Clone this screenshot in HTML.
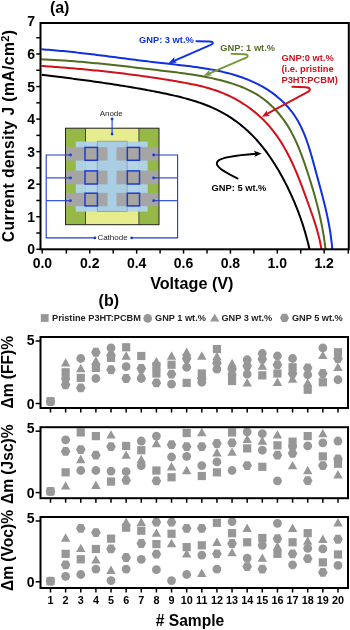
<!DOCTYPE html>
<html><head><meta charset="utf-8"><style>
html,body{margin:0;padding:0;background:#fff;}
body{width:350px;height:630px;overflow:hidden;font-family:"Liberation Sans",sans-serif;}
svg{display:block;will-change:transform;}
</style></head><body>
<svg width="350" height="630" viewBox="0 0 350 630">
<text x="49.9" y="12.9" font-family="'Liberation Sans', sans-serif" font-weight="bold" font-size="16">(a)</text>
<line x1="36.3" y1="249.30" x2="40.5" y2="249.30" stroke="#000" stroke-width="1.5"/>
<line x1="36.3" y1="233.03" x2="40.5" y2="233.03" stroke="#000" stroke-width="1.5"/>
<line x1="36.3" y1="216.75" x2="40.5" y2="216.75" stroke="#000" stroke-width="1.5"/>
<line x1="36.3" y1="200.48" x2="40.5" y2="200.48" stroke="#000" stroke-width="1.5"/>
<line x1="36.3" y1="184.20" x2="40.5" y2="184.20" stroke="#000" stroke-width="1.5"/>
<line x1="36.3" y1="167.93" x2="40.5" y2="167.93" stroke="#000" stroke-width="1.5"/>
<line x1="36.3" y1="151.65" x2="40.5" y2="151.65" stroke="#000" stroke-width="1.5"/>
<line x1="36.3" y1="135.38" x2="40.5" y2="135.38" stroke="#000" stroke-width="1.5"/>
<line x1="36.3" y1="119.10" x2="40.5" y2="119.10" stroke="#000" stroke-width="1.5"/>
<line x1="36.3" y1="102.83" x2="40.5" y2="102.83" stroke="#000" stroke-width="1.5"/>
<line x1="36.3" y1="86.55" x2="40.5" y2="86.55" stroke="#000" stroke-width="1.5"/>
<line x1="36.3" y1="70.28" x2="40.5" y2="70.28" stroke="#000" stroke-width="1.5"/>
<line x1="36.3" y1="54.00" x2="40.5" y2="54.00" stroke="#000" stroke-width="1.5"/>
<line x1="36.3" y1="37.73" x2="40.5" y2="37.73" stroke="#000" stroke-width="1.5"/>
<text x="35" y="254.30" font-family="'Liberation Sans', sans-serif" font-weight="bold" font-size="14" text-anchor="end">0</text>
<text x="35" y="221.75" font-family="'Liberation Sans', sans-serif" font-weight="bold" font-size="14" text-anchor="end">1</text>
<text x="35" y="189.20" font-family="'Liberation Sans', sans-serif" font-weight="bold" font-size="14" text-anchor="end">2</text>
<text x="35" y="156.65" font-family="'Liberation Sans', sans-serif" font-weight="bold" font-size="14" text-anchor="end">3</text>
<text x="35" y="124.10" font-family="'Liberation Sans', sans-serif" font-weight="bold" font-size="14" text-anchor="end">4</text>
<text x="35" y="91.55" font-family="'Liberation Sans', sans-serif" font-weight="bold" font-size="14" text-anchor="end">5</text>
<text x="35" y="59.00" font-family="'Liberation Sans', sans-serif" font-weight="bold" font-size="14" text-anchor="end">6</text>
<text x="35" y="25.50" font-family="'Liberation Sans', sans-serif" font-weight="bold" font-size="14" text-anchor="end">7</text>
<line x1="42.20" y1="249.3" x2="42.20" y2="253.6" stroke="#000" stroke-width="1.5"/>
<line x1="66.34" y1="249.3" x2="66.34" y2="253.6" stroke="#000" stroke-width="1.5"/>
<line x1="89.78" y1="249.3" x2="89.78" y2="253.6" stroke="#000" stroke-width="1.5"/>
<line x1="113.22" y1="249.3" x2="113.22" y2="253.6" stroke="#000" stroke-width="1.5"/>
<line x1="136.66" y1="249.3" x2="136.66" y2="253.6" stroke="#000" stroke-width="1.5"/>
<line x1="160.10" y1="249.3" x2="160.10" y2="253.6" stroke="#000" stroke-width="1.5"/>
<line x1="183.54" y1="249.3" x2="183.54" y2="253.6" stroke="#000" stroke-width="1.5"/>
<line x1="206.98" y1="249.3" x2="206.98" y2="253.6" stroke="#000" stroke-width="1.5"/>
<line x1="230.42" y1="249.3" x2="230.42" y2="253.6" stroke="#000" stroke-width="1.5"/>
<line x1="253.86" y1="249.3" x2="253.86" y2="253.6" stroke="#000" stroke-width="1.5"/>
<line x1="277.30" y1="249.3" x2="277.30" y2="253.6" stroke="#000" stroke-width="1.5"/>
<line x1="300.74" y1="249.3" x2="300.74" y2="253.6" stroke="#000" stroke-width="1.5"/>
<line x1="324.18" y1="249.3" x2="324.18" y2="253.6" stroke="#000" stroke-width="1.5"/>
<line x1="348.30" y1="249.3" x2="348.30" y2="253.6" stroke="#000" stroke-width="1.5"/>
<text x="42.40" y="268" font-family="'Liberation Sans', sans-serif" font-weight="bold" font-size="14" text-anchor="middle">0.0</text>
<text x="89.78" y="268" font-family="'Liberation Sans', sans-serif" font-weight="bold" font-size="14" text-anchor="middle">0.2</text>
<text x="136.66" y="268" font-family="'Liberation Sans', sans-serif" font-weight="bold" font-size="14" text-anchor="middle">0.4</text>
<text x="183.54" y="268" font-family="'Liberation Sans', sans-serif" font-weight="bold" font-size="14" text-anchor="middle">0.6</text>
<text x="230.42" y="268" font-family="'Liberation Sans', sans-serif" font-weight="bold" font-size="14" text-anchor="middle">0.8</text>
<text x="277.30" y="268" font-family="'Liberation Sans', sans-serif" font-weight="bold" font-size="14" text-anchor="middle">1.0</text>
<text x="324.18" y="268" font-family="'Liberation Sans', sans-serif" font-weight="bold" font-size="14" text-anchor="middle">1.2</text>
<text x="191.8" y="289" font-family="'Liberation Sans', sans-serif" font-weight="bold" font-size="16.2" text-anchor="middle">Voltage (V)</text>
<text transform="translate(14.0,135.9) rotate(-90)" font-family="'Liberation Sans', sans-serif" font-weight="bold" font-size="15.6" text-anchor="middle" letter-spacing="0.45">Current density J (mA/cm<tspan dy="-5.5" font-size="11">2</tspan><tspan dy="5.5">)</tspan></text>
<rect x="65.5" y="128.2" width="93.5" height="96.5" fill="#95b846"/>
<rect x="85.5" y="128.2" width="53.5" height="96.5" fill="#e7ec8e"/>
<line x1="85.5" y1="128.2" x2="85.5" y2="224.7" stroke="#333" stroke-width="0.9"/>
<line x1="138.9" y1="128.2" x2="138.9" y2="224.7" stroke="#333" stroke-width="0.9"/>
<rect x="75.7" y="141.5" width="72" height="70.2" fill="#b0d3ec" fill-opacity="0.94"/>
<rect x="97.3" y="141.2" width="29.8" height="70.2" fill="#a9cde2" stroke="#8c9ca6" stroke-width="0.8"/>
<rect x="65.5" y="147.1" width="42" height="13.5" fill="#a5a5a5"/>
<rect x="116.5" y="147.1" width="42.5" height="13.5" fill="#a5a5a5"/>
<rect x="85" y="147.4" width="12.4" height="12.9" fill="#a8a6a3" stroke="#1c3ed0" stroke-width="1.5"/>
<rect x="127.3" y="147.4" width="12.2" height="12.9" fill="#a8a6a3" stroke="#1c3ed0" stroke-width="1.5"/>
<rect x="65.5" y="170.6" width="42" height="13.7" fill="#a5a5a5"/>
<rect x="116.5" y="170.6" width="42.5" height="13.7" fill="#a5a5a5"/>
<rect x="85" y="170.9" width="12.4" height="13.1" fill="#a8a6a3" stroke="#1c3ed0" stroke-width="1.5"/>
<rect x="127.3" y="170.9" width="12.2" height="13.1" fill="#a8a6a3" stroke="#1c3ed0" stroke-width="1.5"/>
<rect x="65.5" y="192.9" width="42" height="13.3" fill="#a5a5a5"/>
<rect x="116.5" y="192.9" width="42.5" height="13.3" fill="#a5a5a5"/>
<rect x="85" y="193.2" width="12.4" height="12.7" fill="#a8a6a3" stroke="#1c3ed0" stroke-width="1.5"/>
<rect x="127.3" y="193.2" width="12.2" height="12.7" fill="#a8a6a3" stroke="#1c3ed0" stroke-width="1.5"/>
<rect x="65.5" y="128.2" width="93.5" height="96.5" fill="none" stroke="#222" stroke-width="1"/>
<polyline points="70.5,155 46.2,155 46.2,237.9 94.9,237.9" fill="none" stroke="#1c3ed0" stroke-width="1.1"/>
<polyline points="153.6,155 177.6,155 177.6,237.9 131.6,237.9" fill="none" stroke="#1c3ed0" stroke-width="1.1"/>
<line x1="46.2" y1="177.9" x2="70.5" y2="177.9" stroke="#1c3ed0" stroke-width="1.1"/>
<line x1="153.6" y1="177.9" x2="177.6" y2="177.9" stroke="#1c3ed0" stroke-width="1.1"/>
<line x1="46.2" y1="200.7" x2="70.5" y2="200.7" stroke="#1c3ed0" stroke-width="1.1"/>
<line x1="153.6" y1="200.7" x2="177.6" y2="200.7" stroke="#1c3ed0" stroke-width="1.1"/>
<circle cx="70.5" cy="155" r="1.4" fill="#1c3ed0"/>
<circle cx="153.6" cy="155" r="1.4" fill="#1c3ed0"/>
<circle cx="70.5" cy="177.9" r="1.4" fill="#1c3ed0"/>
<circle cx="153.6" cy="177.9" r="1.4" fill="#1c3ed0"/>
<circle cx="70.5" cy="200.7" r="1.4" fill="#1c3ed0"/>
<circle cx="153.6" cy="200.7" r="1.4" fill="#1c3ed0"/>
<circle cx="94.9" cy="237.9" r="1.4" fill="#1c3ed0"/>
<circle cx="131.6" cy="237.9" r="1.4" fill="#1c3ed0"/>
<line x1="112.1" y1="118.9" x2="112.1" y2="134" stroke="#1c3ed0" stroke-width="1.1"/>
<circle cx="112.1" cy="118.9" r="1.4" fill="#1c3ed0"/>
<circle cx="112.1" cy="134" r="1.4" fill="#1c3ed0"/>
<text x="111.2" y="115.7" font-family="'Liberation Sans', sans-serif" font-size="8" text-anchor="middle" fill="#222">Anode</text>
<text x="112.5" y="240.3" font-family="'Liberation Sans', sans-serif" font-size="8" text-anchor="middle" fill="#222">Cathode</text>
<path d="M41.50,74.69 L43.57,74.95 L45.64,75.21 L47.71,75.47 L49.78,75.73 L51.85,75.99 L53.91,76.25 L55.98,76.51 L58.05,76.77 L60.12,77.03 L62.19,77.29 L64.26,77.55 L66.32,77.82 L68.39,78.09 L70.46,78.35 L72.53,78.62 L74.59,78.89 L76.66,79.16 L78.73,79.44 L80.79,79.71 L82.86,79.99 L84.93,80.27 L86.99,80.55 L89.06,80.83 L91.12,81.11 L93.19,81.40 L95.25,81.69 L97.32,81.98 L99.38,82.28 L101.44,82.57 L103.51,82.87 L105.57,83.18 L107.63,83.48 L109.69,83.79 L111.76,84.10 L113.82,84.42 L115.88,84.74 L117.94,85.06 L120.00,85.39 L122.06,85.71 L124.11,86.05 L126.17,86.38 L128.23,86.72 L130.28,87.07 L132.34,87.42 L134.39,87.77 L136.45,88.13 L138.50,88.49 L140.55,88.85 L142.61,89.22 L144.66,89.60 L146.71,89.97 L148.76,90.36 L150.80,90.74 L152.85,91.14 L154.90,91.54 L156.94,91.94 L158.99,92.35 L161.03,92.76 L163.08,93.18 L165.12,93.60 L167.16,94.03 L169.19,94.47 L171.23,94.92 L173.26,95.38 L175.29,95.85 L177.32,96.33 L179.35,96.83 L181.37,97.33 L183.39,97.85 L185.41,98.39 L187.42,98.94 L189.42,99.51 L191.42,100.09 L193.42,100.69 L195.41,101.32 L197.39,101.96 L199.37,102.63 L201.34,103.31 L203.30,104.02 L205.25,104.76 L207.19,105.51 L209.12,106.30 L211.04,107.11 L212.95,107.95 L214.85,108.81 L216.73,109.71 L218.60,110.63 L220.45,111.59 L222.29,112.58 L224.11,113.59 L225.91,114.64 L227.70,115.72 L229.46,116.82 L231.21,117.95 L232.94,119.12 L234.65,120.31 L236.35,121.53 L238.02,122.77 L239.67,124.05 L241.30,125.35 L242.91,126.67 L244.50,128.02 L246.06,129.40 L247.61,130.80 L249.13,132.22 L250.63,133.67 L252.10,135.15 L253.56,136.64 L254.99,138.16 L256.40,139.69 L257.78,141.25 L259.15,142.83 L260.49,144.42 L261.82,146.03 L263.12,147.66 L264.40,149.30 L265.66,150.96 L266.91,152.63 L268.13,154.32 L269.33,156.03 L270.52,157.74 L271.69,159.47 L272.84,161.21 L273.97,162.96 L275.08,164.72 L276.18,166.49 L277.26,168.27 L278.33,170.07 L279.38,171.87 L280.41,173.68 L281.43,175.50 L282.44,177.32 L283.43,179.16 L284.40,181.00 L285.36,182.85 L286.31,184.71 L287.24,186.57 L288.16,188.44 L289.06,190.32 L289.95,192.21 L290.83,194.10 L291.69,196.00 L292.54,197.90 L293.37,199.81 L294.19,201.73 L295.00,203.65 L295.79,205.58 L296.57,207.51 L297.34,209.45 L298.09,211.40 L298.82,213.35 L299.54,215.31 L300.25,217.27 L300.94,219.24 L301.61,221.21 L302.28,223.19 L302.92,225.17 L303.55,227.15 L304.17,229.15 L304.77,231.14 L305.36,233.14 L305.93,235.15 L306.49,237.16 L307.03,239.17 L307.56,241.19 L308.07,243.21 L308.56,245.23 L309.04,247.26 L309.51,249.29" fill="none" stroke="#000" stroke-width="2.0" stroke-linejoin="round"/>
<path d="M41.50,65.90 L43.72,66.05 L45.94,66.21 L48.16,66.38 L50.38,66.54 L52.60,66.71 L54.82,66.88 L57.04,67.05 L59.26,67.22 L61.48,67.40 L63.70,67.58 L65.92,67.76 L68.14,67.95 L70.35,68.13 L72.57,68.32 L74.79,68.52 L77.01,68.71 L79.22,68.91 L81.44,69.11 L83.66,69.32 L85.87,69.52 L88.09,69.74 L90.31,69.95 L92.52,70.17 L94.74,70.39 L96.95,70.61 L99.17,70.84 L101.38,71.07 L103.59,71.30 L105.81,71.54 L108.02,71.78 L110.23,72.03 L112.44,72.28 L114.66,72.53 L116.87,72.79 L119.08,73.05 L121.29,73.31 L123.50,73.58 L125.71,73.85 L127.92,74.13 L130.13,74.41 L132.33,74.69 L134.54,74.98 L136.75,75.27 L138.95,75.57 L141.16,75.87 L143.36,76.17 L145.57,76.48 L147.77,76.80 L149.98,77.12 L152.18,77.44 L154.38,77.77 L156.58,78.10 L158.78,78.44 L160.98,78.78 L163.18,79.13 L165.38,79.48 L167.58,79.84 L169.77,80.20 L171.97,80.57 L174.16,80.94 L176.36,81.32 L178.55,81.70 L180.74,82.09 L182.93,82.48 L185.12,82.88 L187.31,83.29 L189.50,83.71 L191.68,84.15 L193.86,84.60 L196.04,85.07 L198.21,85.55 L200.38,86.06 L202.54,86.58 L204.70,87.14 L206.85,87.71 L208.99,88.32 L211.12,88.95 L213.25,89.61 L215.36,90.31 L217.47,91.04 L219.56,91.80 L221.63,92.61 L223.69,93.44 L225.74,94.32 L227.77,95.23 L229.79,96.18 L231.78,97.16 L233.76,98.18 L235.72,99.23 L237.67,100.32 L239.59,101.44 L241.49,102.60 L243.37,103.79 L245.23,105.01 L247.07,106.27 L248.88,107.56 L250.68,108.88 L252.44,110.23 L254.19,111.62 L255.90,113.03 L257.60,114.48 L259.26,115.96 L260.90,117.46 L262.51,119.00 L264.09,120.57 L265.64,122.16 L267.16,123.79 L268.65,125.44 L270.11,127.13 L271.53,128.84 L272.93,130.57 L274.29,132.34 L275.62,134.12 L276.92,135.93 L278.19,137.76 L279.43,139.61 L280.64,141.47 L281.82,143.36 L282.97,145.26 L284.10,147.18 L285.20,149.12 L286.28,151.06 L287.33,153.03 L288.36,155.00 L289.37,156.98 L290.36,158.98 L291.32,160.99 L292.27,163.00 L293.20,165.03 L294.10,167.06 L295.00,169.10 L295.87,171.14 L296.74,173.20 L297.58,175.25 L298.42,177.32 L299.24,179.39 L300.05,181.46 L300.85,183.54 L301.65,185.62 L302.43,187.70 L303.21,189.79 L303.98,191.87 L304.74,193.97 L305.50,196.06 L306.26,198.15 L307.01,200.25 L307.76,202.34 L308.52,204.44 L309.27,206.53 L310.01,208.63 L310.76,210.73 L311.50,212.83 L312.23,214.93 L312.95,217.04 L313.66,219.15 L314.35,221.26 L315.03,223.38 L315.70,225.50 L316.35,227.63 L316.97,229.77 L317.58,231.91 L318.16,234.06 L318.72,236.22 L319.25,238.38 L319.75,240.55 L320.22,242.72 L320.65,244.91 L321.05,247.10 L321.42,249.29" fill="none" stroke="#d0101a" stroke-width="2.0" stroke-linejoin="round"/>
<path d="M41.50,59.31 L43.82,59.41 L46.15,59.52 L48.48,59.63 L50.81,59.75 L53.13,59.88 L55.46,60.01 L57.79,60.15 L60.11,60.30 L62.44,60.45 L64.76,60.61 L67.09,60.78 L69.41,60.95 L71.73,61.12 L74.06,61.30 L76.38,61.49 L78.70,61.68 L81.03,61.87 L83.35,62.08 L85.67,62.28 L87.99,62.49 L90.31,62.71 L92.63,62.92 L94.95,63.15 L97.27,63.37 L99.59,63.60 L101.91,63.84 L104.22,64.07 L106.54,64.31 L108.86,64.56 L111.18,64.80 L113.49,65.05 L115.81,65.30 L118.13,65.56 L120.44,65.81 L122.76,66.07 L125.07,66.33 L127.39,66.60 L129.71,66.86 L132.02,67.13 L134.34,67.39 L136.65,67.66 L138.96,67.93 L141.28,68.20 L143.59,68.48 L145.91,68.75 L148.22,69.02 L150.54,69.29 L152.85,69.57 L155.17,69.84 L157.48,70.11 L159.79,70.39 L162.11,70.66 L164.42,70.93 L166.74,71.21 L169.05,71.48 L171.36,71.77 L173.68,72.05 L175.99,72.34 L178.30,72.63 L180.61,72.94 L182.92,73.25 L185.23,73.56 L187.54,73.89 L189.84,74.23 L192.15,74.58 L194.45,74.94 L196.75,75.32 L199.04,75.71 L201.34,76.11 L203.63,76.53 L205.92,76.97 L208.21,77.42 L210.49,77.89 L212.77,78.39 L215.04,78.90 L217.31,79.43 L219.57,79.98 L221.83,80.56 L224.08,81.16 L226.33,81.78 L228.56,82.44 L230.79,83.12 L233.01,83.83 L235.22,84.58 L237.42,85.35 L239.60,86.17 L241.77,87.02 L243.92,87.92 L246.05,88.85 L248.17,89.83 L250.26,90.85 L252.33,91.93 L254.37,93.05 L256.39,94.22 L258.37,95.45 L260.32,96.73 L262.23,98.06 L264.10,99.45 L265.93,100.89 L267.73,102.37 L269.48,103.91 L271.19,105.48 L272.87,107.11 L274.50,108.77 L276.09,110.47 L277.64,112.21 L279.15,113.99 L280.62,115.80 L282.04,117.64 L283.43,119.51 L284.78,121.42 L286.08,123.35 L287.35,125.30 L288.57,127.28 L289.76,129.29 L290.91,131.32 L292.02,133.37 L293.10,135.43 L294.14,137.52 L295.14,139.62 L296.12,141.73 L297.07,143.86 L297.99,146.00 L298.89,148.15 L299.76,150.32 L300.61,152.49 L301.44,154.66 L302.25,156.85 L303.04,159.04 L303.82,161.24 L304.58,163.44 L305.34,165.64 L306.08,167.85 L306.82,170.06 L307.54,172.28 L308.26,174.49 L308.98,176.71 L309.68,178.93 L310.38,181.15 L311.07,183.38 L311.75,185.61 L312.42,187.84 L313.08,190.08 L313.73,192.31 L314.37,194.55 L315.00,196.80 L315.62,199.05 L316.22,201.30 L316.81,203.55 L317.39,205.81 L317.96,208.07 L318.52,210.33 L319.06,212.60 L319.58,214.87 L320.09,217.14 L320.59,219.42 L321.07,221.70 L321.53,223.98 L321.98,226.27 L322.41,228.56 L322.83,230.85 L323.23,233.15 L323.61,235.45 L323.97,237.75 L324.31,240.05 L324.64,242.36 L324.95,244.67 L325.23,246.98 L325.50,249.30" fill="none" stroke="#4f6b1f" stroke-width="2.0" stroke-linejoin="round"/>
<path d="M41.49,49.31 L43.90,49.48 L46.31,49.66 L48.72,49.84 L51.13,50.04 L53.54,50.24 L55.95,50.45 L58.36,50.66 L60.77,50.89 L63.17,51.12 L65.58,51.35 L67.99,51.60 L70.39,51.84 L72.79,52.10 L75.20,52.36 L77.60,52.62 L80.00,52.89 L82.41,53.17 L84.81,53.45 L87.21,53.73 L89.61,54.02 L92.01,54.31 L94.41,54.60 L96.81,54.90 L99.21,55.20 L101.61,55.50 L104.01,55.81 L106.41,56.11 L108.80,56.42 L111.20,56.73 L113.60,57.04 L116.00,57.35 L118.40,57.67 L120.79,57.98 L123.19,58.29 L125.59,58.60 L127.99,58.91 L130.38,59.22 L132.78,59.53 L135.18,59.84 L137.58,60.14 L139.98,60.44 L142.38,60.74 L144.78,61.04 L147.18,61.34 L149.58,61.63 L151.98,61.92 L154.38,62.20 L156.78,62.48 L159.18,62.76 L161.59,63.03 L163.99,63.30 L166.39,63.56 L168.80,63.83 L171.20,64.09 L173.60,64.36 L176.00,64.63 L178.41,64.90 L180.81,65.17 L183.21,65.45 L185.61,65.74 L188.01,66.03 L190.41,66.33 L192.81,66.65 L195.21,66.97 L197.60,67.30 L199.99,67.65 L202.38,68.01 L204.77,68.39 L207.16,68.79 L209.54,69.20 L211.92,69.63 L214.29,70.08 L216.67,70.55 L219.03,71.04 L221.39,71.56 L223.75,72.11 L226.10,72.68 L228.44,73.28 L230.78,73.90 L233.10,74.56 L235.42,75.25 L237.73,75.97 L240.03,76.73 L242.31,77.52 L244.58,78.35 L246.84,79.21 L249.08,80.12 L251.31,81.07 L253.51,82.05 L255.70,83.09 L257.87,84.16 L260.01,85.28 L262.13,86.44 L264.22,87.65 L266.29,88.90 L268.33,90.20 L270.34,91.55 L272.31,92.94 L274.26,94.38 L276.16,95.87 L278.03,97.40 L279.87,98.98 L281.66,100.60 L283.41,102.27 L285.12,103.98 L286.78,105.74 L288.39,107.54 L289.95,109.38 L291.46,111.27 L292.92,113.20 L294.31,115.18 L295.64,117.20 L296.91,119.25 L298.13,121.35 L299.29,123.47 L300.39,125.62 L301.45,127.79 L302.46,129.99 L303.43,132.20 L304.35,134.44 L305.24,136.69 L306.10,138.95 L306.92,141.22 L307.71,143.51 L308.47,145.80 L309.20,148.11 L309.92,150.42 L310.61,152.73 L311.29,155.05 L311.95,157.38 L312.60,159.71 L313.24,162.04 L313.88,164.37 L314.51,166.71 L315.14,169.04 L315.78,171.37 L316.41,173.71 L317.05,176.04 L317.69,178.37 L318.33,180.70 L318.97,183.03 L319.60,185.37 L320.23,187.70 L320.86,190.04 L321.48,192.37 L322.10,194.71 L322.71,197.05 L323.31,199.39 L323.90,201.74 L324.49,204.08 L325.06,206.43 L325.62,208.79 L326.16,211.14 L326.69,213.50 L327.21,215.86 L327.71,218.23 L328.19,220.60 L328.65,222.97 L329.10,225.35 L329.52,227.73 L329.93,230.11 L330.31,232.50 L330.67,234.89 L331.00,237.28 L331.31,239.68 L331.60,242.08 L331.86,244.49 L332.09,246.89 L332.29,249.30" fill="none" stroke="#1030e0" stroke-width="2.0" stroke-linejoin="round"/>
<rect x="40.5" y="23" width="308.3" height="226.3" fill="none" stroke="#000" stroke-width="2"/>
<text x="139" y="42.7" font-family="'Liberation Sans', sans-serif" font-weight="bold" font-size="9.3" fill="#1030e0">GNP: 3 wt.%</text>
<path d="M196.4,41.2 L209.5,41.5 C214,41.8 214,44.2 209.5,45.3 L173.5,61.1" fill="none" stroke="#1030e0" stroke-width="1.9" stroke-linecap="round"/><polygon points="168.80,62.90 174.41,56.99 174.22,60.56 176.95,62.86" fill="#1030e0"/>
<text x="220.3" y="50.9" font-family="'Liberation Sans', sans-serif" font-weight="bold" font-size="9.3" fill="#556b2f">GNP: 1 wt.%</text>
<path d="M231.4,53.9 L244.5,54.3 C249,54.6 248.5,57 244.5,58.5 L208.5,73.8" fill="none" stroke="#76993a" stroke-width="1.9" stroke-linecap="round"/><polygon points="203.80,75.70 209.46,69.83 209.23,73.40 211.95,75.73" fill="#76993a"/>
<text x="281.5" y="61.4" font-family="'Liberation Sans', sans-serif" font-weight="bold" font-size="9.3" fill="#d0101a">GNP:0 wt.%</text>
<text x="281.5" y="72.2" font-family="'Liberation Sans', sans-serif" font-weight="bold" font-size="9.3" fill="#d0101a">(i.e. pristine</text>
<text x="281.5" y="83.3" font-family="'Liberation Sans', sans-serif" font-weight="bold" font-size="9.3" fill="#d0101a">P3HT:PCBM)</text>
<path d="M292.3,86.7 L305.5,87.2 C311,87.5 311.5,90.5 306,92.8 L266.5,114.2" fill="none" stroke="#d0101a" stroke-width="1.9" stroke-linecap="round"/><polygon points="261.90,116.70 266.97,110.31 267.09,113.89 270.02,115.94" fill="#d0101a"/>
<text x="211.6" y="190.7" font-family="'Liberation Sans', sans-serif" font-weight="bold" font-size="9.3" fill="#000">GNP: 5 wt.%</text>
<path d="M237.5,178.5 C225,172 213,166 218,161 C222,157 240,155 256,153.8" fill="none" stroke="#000" stroke-width="1.9" stroke-linecap="round"/><polygon points="261.60,153.40 254.33,157.09 255.71,153.79 253.91,150.70" fill="#000"/>
<text x="98.6" y="306" font-family="'Liberation Sans', sans-serif" font-weight="bold" font-size="16">(b)</text>
<rect x="40.80" y="314.10" width="7.8" height="7.8" fill="#979797"/>
<text x="52" y="321.3" font-family="'Liberation Sans', sans-serif" font-weight="bold" font-size="9.2" fill="#222">Pristine P3HT:PCBM</text>
<circle cx="147.70" cy="318.40" r="4.3" fill="#979797"/>
<text x="155" y="321.3" font-family="'Liberation Sans', sans-serif" font-weight="bold" font-size="9.2" fill="#222">GNP 1 wt.%</text>
<polygon points="214.70,313.80 219.40,321.60 210.00,321.60" fill="#979797"/>
<text x="221.4" y="321.3" font-family="'Liberation Sans', sans-serif" font-weight="bold" font-size="9.2" fill="#222">GNP 3 wt.%</text>
<polygon points="279.90,317.90 282.20,313.80 286.80,313.80 289.10,317.90 286.80,322.00 282.20,322.00" fill="#979797"/>
<text x="291.9" y="321.3" font-family="'Liberation Sans', sans-serif" font-weight="bold" font-size="9.2" fill="#222">GNP 5 wt.%</text>
<polygon points="45.70,401.62 48.10,397.23 52.90,397.23 55.30,401.62 52.90,406.02 48.10,406.02" fill="#979797"/>
<rect x="46.40" y="397.15" width="8.2" height="8.2" fill="#979797"/>
<polygon points="65.63,358.18 70.33,366.57 60.93,366.57" fill="#979797"/>
<rect x="61.53" y="368.15" width="8.2" height="8.2" fill="#979797"/>
<circle cx="65.63" cy="378.50" r="4.4" fill="#979797"/>
<polygon points="60.83,384.75 63.23,380.35 68.03,380.35 70.43,384.75 68.03,389.15 63.23,389.15" fill="#979797"/>
<circle cx="80.76" cy="358.50" r="4.4" fill="#979797"/>
<polygon points="80.76,363.80 85.46,372.20 76.06,372.20" fill="#979797"/>
<rect x="76.66" y="373.77" width="8.2" height="8.2" fill="#979797"/>
<polygon points="75.96,387.88 78.36,383.48 83.16,383.48 85.56,387.88 83.16,392.27 78.36,392.27" fill="#979797"/>
<polygon points="91.09,352.25 93.49,347.85 98.29,347.85 100.69,352.25 98.29,356.65 93.49,356.65" fill="#979797"/>
<polygon points="95.89,356.30 100.59,364.70 91.19,364.70" fill="#979797"/>
<rect x="91.79" y="363.77" width="8.2" height="8.2" fill="#979797"/>
<circle cx="95.89" cy="378.50" r="4.4" fill="#979797"/>
<circle cx="111.02" cy="347.88" r="4.4" fill="#979797"/>
<polygon points="106.22,355.38 108.62,350.98 113.42,350.98 115.82,355.38 113.42,359.77 108.62,359.77" fill="#979797"/>
<rect x="106.92" y="353.77" width="8.2" height="8.2" fill="#979797"/>
<polygon points="106.22,369.75 108.62,365.35 113.42,365.35 115.82,369.75 113.42,374.15 108.62,374.15" fill="#979797"/>
<rect x="122.05" y="343.15" width="8.2" height="8.2" fill="#979797"/>
<polygon points="126.15,351.30 130.85,359.70 121.45,359.70" fill="#979797"/>
<circle cx="126.15" cy="366.62" r="4.4" fill="#979797"/>
<polygon points="121.35,378.50 123.75,374.10 128.55,374.10 130.95,378.50 128.55,382.90 123.75,382.90" fill="#979797"/>
<rect x="137.18" y="351.90" width="8.2" height="8.2" fill="#979797"/>
<polygon points="136.48,368.50 138.88,364.10 143.68,364.10 146.08,368.50 143.68,372.90 138.88,372.90" fill="#979797"/>
<polygon points="141.28,370.05 145.98,378.45 136.58,378.45" fill="#979797"/>
<circle cx="141.28" cy="378.50" r="4.4" fill="#979797"/>
<polygon points="156.41,356.93 161.11,365.32 151.71,365.32" fill="#979797"/>
<rect x="152.31" y="361.90" width="8.2" height="8.2" fill="#979797"/>
<rect x="152.31" y="369.40" width="8.2" height="8.2" fill="#979797"/>
<polygon points="151.61,382.88 154.01,378.48 158.81,378.48 161.21,382.88 158.81,387.27 154.01,387.27" fill="#979797"/>
<polygon points="171.54,351.30 176.24,359.70 166.84,359.70" fill="#979797"/>
<rect x="167.44" y="360.65" width="8.2" height="8.2" fill="#979797"/>
<polygon points="166.74,374.12 169.14,369.73 173.94,369.73 176.34,374.12 173.94,378.52 169.14,378.52" fill="#979797"/>
<circle cx="171.54" cy="384.12" r="4.4" fill="#979797"/>
<polygon points="186.67,347.55 191.37,355.95 181.97,355.95" fill="#979797"/>
<polygon points="181.87,358.50 184.27,354.10 189.07,354.10 191.47,358.50 189.07,362.90 184.27,362.90" fill="#979797"/>
<circle cx="186.67" cy="367.25" r="4.4" fill="#979797"/>
<rect x="182.57" y="378.77" width="8.2" height="8.2" fill="#979797"/>
<polygon points="201.80,351.30 206.50,359.70 197.10,359.70" fill="#979797"/>
<rect x="197.70" y="369.40" width="8.2" height="8.2" fill="#979797"/>
<polygon points="197.00,378.50 199.40,374.10 204.20,374.10 206.60,378.50 204.20,382.90 199.40,382.90" fill="#979797"/>
<circle cx="201.80" cy="382.25" r="4.4" fill="#979797"/>
<rect x="212.83" y="345.02" width="8.2" height="8.2" fill="#979797"/>
<polygon points="216.93,351.93 221.63,360.32 212.23,360.32" fill="#979797"/>
<polygon points="212.13,362.88 214.53,358.48 219.33,358.48 221.73,362.88 219.33,367.27 214.53,367.27" fill="#979797"/>
<circle cx="216.93" cy="369.12" r="4.4" fill="#979797"/>
<polygon points="232.06,358.80 236.76,367.20 227.36,367.20" fill="#979797"/>
<polygon points="227.26,369.12 229.66,364.73 234.46,364.73 236.86,369.12 234.46,373.52 229.66,373.52" fill="#979797"/>
<circle cx="232.06" cy="374.75" r="4.4" fill="#979797"/>
<rect x="227.96" y="376.90" width="8.2" height="8.2" fill="#979797"/>
<circle cx="247.19" cy="359.75" r="4.4" fill="#979797"/>
<polygon points="242.39,366.00 244.79,361.60 249.59,361.60 251.99,366.00 249.59,370.40 244.79,370.40" fill="#979797"/>
<circle cx="247.19" cy="374.12" r="4.4" fill="#979797"/>
<polygon points="247.19,378.18 251.89,386.57 242.49,386.57" fill="#979797"/>
<circle cx="262.32" cy="353.50" r="4.4" fill="#979797"/>
<polygon points="257.52,359.12 259.92,354.73 264.72,354.73 267.12,359.12 264.72,363.52 259.92,363.52" fill="#979797"/>
<polygon points="262.32,361.30 267.02,369.70 257.62,369.70" fill="#979797"/>
<rect x="258.22" y="371.27" width="8.2" height="8.2" fill="#979797"/>
<circle cx="277.45" cy="356.00" r="4.4" fill="#979797"/>
<polygon points="272.65,364.75 275.05,360.35 279.85,360.35 282.25,364.75 279.85,369.15 275.05,369.15" fill="#979797"/>
<rect x="273.35" y="369.40" width="8.2" height="8.2" fill="#979797"/>
<polygon points="277.45,377.55 282.15,385.95 272.75,385.95" fill="#979797"/>
<circle cx="292.58" cy="358.50" r="4.4" fill="#979797"/>
<rect x="288.48" y="363.15" width="8.2" height="8.2" fill="#979797"/>
<polygon points="287.78,373.50 290.18,369.10 294.98,369.10 297.38,373.50 294.98,377.90 290.18,377.90" fill="#979797"/>
<polygon points="292.58,374.43 297.28,382.82 287.88,382.82" fill="#979797"/>
<polygon points="302.91,367.88 305.31,363.48 310.11,363.48 312.51,367.88 310.11,372.27 305.31,372.27" fill="#979797"/>
<circle cx="307.71" cy="374.75" r="4.4" fill="#979797"/>
<polygon points="307.71,378.18 312.41,386.57 303.01,386.57" fill="#979797"/>
<rect x="303.61" y="385.65" width="8.2" height="8.2" fill="#979797"/>
<circle cx="322.84" cy="347.88" r="4.4" fill="#979797"/>
<polygon points="322.84,350.68 327.54,359.07 318.14,359.07" fill="#979797"/>
<polygon points="318.04,373.50 320.44,369.10 325.24,369.10 327.64,373.50 325.24,377.90 320.44,377.90" fill="#979797"/>
<rect x="318.74" y="378.15" width="8.2" height="8.2" fill="#979797"/>
<rect x="333.87" y="348.15" width="8.2" height="8.2" fill="#979797"/>
<polygon points="333.17,358.50 335.57,354.10 340.37,354.10 342.77,358.50 340.37,362.90 335.57,362.90" fill="#979797"/>
<polygon points="337.97,362.55 342.67,370.95 333.27,370.95" fill="#979797"/>
<circle cx="337.97" cy="379.75" r="4.4" fill="#979797"/>
<rect x="40.5" y="337.0" width="307.5" height="71.0" fill="none" stroke="#000" stroke-width="2"/>
<line x1="35.6" y1="403.50" x2="40.5" y2="403.50" stroke="#000" stroke-width="1.5"/>
<text x="34.6" y="408.60" font-family="'Liberation Sans', sans-serif" font-weight="bold" font-size="14" text-anchor="end">0</text>
<line x1="35.6" y1="341.00" x2="40.5" y2="341.00" stroke="#000" stroke-width="1.5"/>
<text x="34.6" y="344.90" font-family="'Liberation Sans', sans-serif" font-weight="bold" font-size="14" text-anchor="end">5</text>
<line x1="50.50" y1="408.0" x2="50.50" y2="412.5" stroke="#000" stroke-width="1.5"/>
<line x1="65.63" y1="408.0" x2="65.63" y2="412.5" stroke="#000" stroke-width="1.5"/>
<line x1="80.76" y1="408.0" x2="80.76" y2="412.5" stroke="#000" stroke-width="1.5"/>
<line x1="95.89" y1="408.0" x2="95.89" y2="412.5" stroke="#000" stroke-width="1.5"/>
<line x1="111.02" y1="408.0" x2="111.02" y2="412.5" stroke="#000" stroke-width="1.5"/>
<line x1="126.15" y1="408.0" x2="126.15" y2="412.5" stroke="#000" stroke-width="1.5"/>
<line x1="141.28" y1="408.0" x2="141.28" y2="412.5" stroke="#000" stroke-width="1.5"/>
<line x1="156.41" y1="408.0" x2="156.41" y2="412.5" stroke="#000" stroke-width="1.5"/>
<line x1="171.54" y1="408.0" x2="171.54" y2="412.5" stroke="#000" stroke-width="1.5"/>
<line x1="186.67" y1="408.0" x2="186.67" y2="412.5" stroke="#000" stroke-width="1.5"/>
<line x1="201.80" y1="408.0" x2="201.80" y2="412.5" stroke="#000" stroke-width="1.5"/>
<line x1="216.93" y1="408.0" x2="216.93" y2="412.5" stroke="#000" stroke-width="1.5"/>
<line x1="232.06" y1="408.0" x2="232.06" y2="412.5" stroke="#000" stroke-width="1.5"/>
<line x1="247.19" y1="408.0" x2="247.19" y2="412.5" stroke="#000" stroke-width="1.5"/>
<line x1="262.32" y1="408.0" x2="262.32" y2="412.5" stroke="#000" stroke-width="1.5"/>
<line x1="277.45" y1="408.0" x2="277.45" y2="412.5" stroke="#000" stroke-width="1.5"/>
<line x1="292.58" y1="408.0" x2="292.58" y2="412.5" stroke="#000" stroke-width="1.5"/>
<line x1="307.71" y1="408.0" x2="307.71" y2="412.5" stroke="#000" stroke-width="1.5"/>
<line x1="322.84" y1="408.0" x2="322.84" y2="412.5" stroke="#000" stroke-width="1.5"/>
<line x1="337.97" y1="408.0" x2="337.97" y2="412.5" stroke="#000" stroke-width="1.5"/>
<text transform="translate(12.9,372.2) rotate(-90)" font-family="'Liberation Sans', sans-serif" font-weight="bold" font-size="15.6" text-anchor="middle">Δm (FF)%</text>
<polygon points="45.70,491.37 48.10,486.97 52.90,486.97 55.30,491.37 52.90,495.77 48.10,495.77" fill="#979797"/>
<rect x="46.40" y="487.27" width="8.2" height="8.2" fill="#979797"/>
<circle cx="65.63" cy="439.80" r="4.4" fill="#979797"/>
<polygon points="60.83,451.46 63.23,447.06 68.03,447.06 70.43,451.46 68.03,455.86 63.23,455.86" fill="#979797"/>
<rect x="61.53" y="468.24" width="8.2" height="8.2" fill="#979797"/>
<polygon points="65.63,481.15 70.33,489.55 60.93,489.55" fill="#979797"/>
<rect x="76.66" y="428.33" width="8.2" height="8.2" fill="#979797"/>
<polygon points="75.96,449.62 78.36,445.22 83.16,445.22 85.56,449.62 83.16,454.02 78.36,454.02" fill="#979797"/>
<polygon points="80.76,454.74 85.46,463.14 76.06,463.14" fill="#979797"/>
<circle cx="80.76" cy="470.50" r="4.4" fill="#979797"/>
<rect x="91.79" y="432.01" width="8.2" height="8.2" fill="#979797"/>
<polygon points="91.09,455.15 93.49,450.75 98.29,450.75 100.69,455.15 98.29,459.55 93.49,459.55" fill="#979797"/>
<circle cx="95.89" cy="470.50" r="4.4" fill="#979797"/>
<polygon points="95.89,480.53 100.59,488.93 91.19,488.93" fill="#979797"/>
<polygon points="111.02,430.18 115.72,438.58 106.32,438.58" fill="#979797"/>
<polygon points="106.22,446.55 108.62,442.15 113.42,442.15 115.82,446.55 113.42,450.95 108.62,450.95" fill="#979797"/>
<circle cx="111.02" cy="471.11" r="4.4" fill="#979797"/>
<rect x="106.92" y="477.45" width="8.2" height="8.2" fill="#979797"/>
<rect x="122.05" y="441.84" width="8.2" height="8.2" fill="#979797"/>
<polygon points="126.15,450.45 130.85,458.85 121.45,458.85" fill="#979797"/>
<circle cx="126.15" cy="471.72" r="4.4" fill="#979797"/>
<polygon points="121.35,480.32 123.75,475.92 128.55,475.92 130.95,480.32 128.55,484.72 123.75,484.72" fill="#979797"/>
<circle cx="141.28" cy="441.02" r="4.4" fill="#979797"/>
<rect x="137.18" y="446.13" width="8.2" height="8.2" fill="#979797"/>
<polygon points="141.28,454.74 145.98,463.14 136.58,463.14" fill="#979797"/>
<circle cx="141.28" cy="465.58" r="4.4" fill="#979797"/>
<circle cx="156.41" cy="436.11" r="4.4" fill="#979797"/>
<polygon points="156.41,438.78 161.11,447.18 151.71,447.18" fill="#979797"/>
<rect x="152.31" y="466.40" width="8.2" height="8.2" fill="#979797"/>
<polygon points="151.61,480.93 154.01,476.53 158.81,476.53 161.21,480.93 158.81,485.33 154.01,485.33" fill="#979797"/>
<polygon points="166.74,444.71 169.14,440.31 173.94,440.31 176.34,444.71 173.94,449.11 169.14,449.11" fill="#979797"/>
<circle cx="171.54" cy="456.99" r="4.4" fill="#979797"/>
<polygon points="171.54,462.11 176.24,470.51 166.84,470.51" fill="#979797"/>
<rect x="167.44" y="473.15" width="8.2" height="8.2" fill="#979797"/>
<rect x="182.57" y="428.94" width="8.2" height="8.2" fill="#979797"/>
<polygon points="181.87,446.55 184.27,442.15 189.07,442.15 191.47,446.55 189.07,450.95 184.27,450.95" fill="#979797"/>
<circle cx="186.67" cy="456.37" r="4.4" fill="#979797"/>
<polygon points="186.67,465.80 191.37,474.20 181.97,474.20" fill="#979797"/>
<polygon points="201.80,427.73 206.50,436.13 197.10,436.13" fill="#979797"/>
<polygon points="197.00,446.55 199.40,442.15 204.20,442.15 206.60,446.55 204.20,450.95 199.40,450.95" fill="#979797"/>
<circle cx="201.80" cy="465.58" r="4.4" fill="#979797"/>
<rect x="197.70" y="471.92" width="8.2" height="8.2" fill="#979797"/>
<polygon points="212.13,443.48 214.53,439.08 219.33,439.08 221.73,443.48 219.33,447.88 214.53,447.88" fill="#979797"/>
<polygon points="216.93,447.99 221.63,456.39 212.23,456.39" fill="#979797"/>
<circle cx="216.93" cy="461.90" r="4.4" fill="#979797"/>
<rect x="212.83" y="468.24" width="8.2" height="8.2" fill="#979797"/>
<rect x="227.96" y="428.33" width="8.2" height="8.2" fill="#979797"/>
<polygon points="227.26,442.87 229.66,438.47 234.46,438.47 236.86,442.87 234.46,447.27 229.66,447.27" fill="#979797"/>
<polygon points="232.06,447.38 236.76,455.78 227.36,455.78" fill="#979797"/>
<circle cx="232.06" cy="470.50" r="4.4" fill="#979797"/>
<circle cx="247.19" cy="431.81" r="4.4" fill="#979797"/>
<polygon points="247.19,434.48 251.89,442.88 242.49,442.88" fill="#979797"/>
<rect x="243.09" y="444.29" width="8.2" height="8.2" fill="#979797"/>
<polygon points="242.39,465.58 244.79,461.18 249.59,461.18 251.99,465.58 249.59,469.98 244.79,469.98" fill="#979797"/>
<circle cx="262.32" cy="433.66" r="4.4" fill="#979797"/>
<polygon points="262.32,436.32 267.02,444.72 257.62,444.72" fill="#979797"/>
<circle cx="262.32" cy="450.23" r="4.4" fill="#979797"/>
<rect x="258.22" y="462.71" width="8.2" height="8.2" fill="#979797"/>
<polygon points="277.45,430.18 282.15,438.58 272.75,438.58" fill="#979797"/>
<rect x="273.35" y="441.22" width="8.2" height="8.2" fill="#979797"/>
<polygon points="272.65,455.15 275.05,450.75 279.85,450.75 282.25,455.15 279.85,459.55 275.05,459.55" fill="#979797"/>
<circle cx="277.45" cy="480.93" r="4.4" fill="#979797"/>
<rect x="288.48" y="437.54" width="8.2" height="8.2" fill="#979797"/>
<circle cx="292.58" cy="446.55" r="4.4" fill="#979797"/>
<polygon points="287.78,453.30 290.18,448.90 294.98,448.90 297.38,453.30 294.98,457.70 290.18,457.70" fill="#979797"/>
<polygon points="292.58,460.88 297.28,469.28 287.88,469.28" fill="#979797"/>
<rect x="303.61" y="432.01" width="8.2" height="8.2" fill="#979797"/>
<circle cx="307.71" cy="445.94" r="4.4" fill="#979797"/>
<polygon points="307.71,465.80 312.41,474.20 303.01,474.20" fill="#979797"/>
<polygon points="302.91,480.69 305.31,476.29 310.11,476.29 312.51,480.69 310.11,485.09 305.31,485.09" fill="#979797"/>
<polygon points="322.84,428.96 327.54,437.36 318.14,437.36" fill="#979797"/>
<circle cx="322.84" cy="442.87" r="4.4" fill="#979797"/>
<rect x="318.74" y="452.27" width="8.2" height="8.2" fill="#979797"/>
<polygon points="318.04,465.58 320.44,461.18 325.24,461.18 327.64,465.58 325.24,469.98 320.44,469.98" fill="#979797"/>
<circle cx="337.97" cy="441.02" r="4.4" fill="#979797"/>
<polygon points="333.17,458.83 335.57,454.43 340.37,454.43 342.77,458.83 340.37,463.23 335.57,463.23" fill="#979797"/>
<rect x="333.87" y="459.64" width="8.2" height="8.2" fill="#979797"/>
<polygon points="337.97,470.09 342.67,478.49 333.27,478.49" fill="#979797"/>
<rect x="40.5" y="427.2" width="307.5" height="71.0" fill="none" stroke="#000" stroke-width="2"/>
<line x1="35.6" y1="492.60" x2="40.5" y2="492.60" stroke="#000" stroke-width="1.5"/>
<text x="34.6" y="497.70" font-family="'Liberation Sans', sans-serif" font-weight="bold" font-size="14" text-anchor="end">0</text>
<line x1="35.6" y1="431.20" x2="40.5" y2="431.20" stroke="#000" stroke-width="1.5"/>
<text x="34.6" y="432.90" font-family="'Liberation Sans', sans-serif" font-weight="bold" font-size="14" text-anchor="end">5</text>
<line x1="50.50" y1="498.2" x2="50.50" y2="502.7" stroke="#000" stroke-width="1.5"/>
<line x1="65.63" y1="498.2" x2="65.63" y2="502.7" stroke="#000" stroke-width="1.5"/>
<line x1="80.76" y1="498.2" x2="80.76" y2="502.7" stroke="#000" stroke-width="1.5"/>
<line x1="95.89" y1="498.2" x2="95.89" y2="502.7" stroke="#000" stroke-width="1.5"/>
<line x1="111.02" y1="498.2" x2="111.02" y2="502.7" stroke="#000" stroke-width="1.5"/>
<line x1="126.15" y1="498.2" x2="126.15" y2="502.7" stroke="#000" stroke-width="1.5"/>
<line x1="141.28" y1="498.2" x2="141.28" y2="502.7" stroke="#000" stroke-width="1.5"/>
<line x1="156.41" y1="498.2" x2="156.41" y2="502.7" stroke="#000" stroke-width="1.5"/>
<line x1="171.54" y1="498.2" x2="171.54" y2="502.7" stroke="#000" stroke-width="1.5"/>
<line x1="186.67" y1="498.2" x2="186.67" y2="502.7" stroke="#000" stroke-width="1.5"/>
<line x1="201.80" y1="498.2" x2="201.80" y2="502.7" stroke="#000" stroke-width="1.5"/>
<line x1="216.93" y1="498.2" x2="216.93" y2="502.7" stroke="#000" stroke-width="1.5"/>
<line x1="232.06" y1="498.2" x2="232.06" y2="502.7" stroke="#000" stroke-width="1.5"/>
<line x1="247.19" y1="498.2" x2="247.19" y2="502.7" stroke="#000" stroke-width="1.5"/>
<line x1="262.32" y1="498.2" x2="262.32" y2="502.7" stroke="#000" stroke-width="1.5"/>
<line x1="277.45" y1="498.2" x2="277.45" y2="502.7" stroke="#000" stroke-width="1.5"/>
<line x1="292.58" y1="498.2" x2="292.58" y2="502.7" stroke="#000" stroke-width="1.5"/>
<line x1="307.71" y1="498.2" x2="307.71" y2="502.7" stroke="#000" stroke-width="1.5"/>
<line x1="322.84" y1="498.2" x2="322.84" y2="502.7" stroke="#000" stroke-width="1.5"/>
<line x1="337.97" y1="498.2" x2="337.97" y2="502.7" stroke="#000" stroke-width="1.5"/>
<text transform="translate(12.9,464.2) rotate(-90)" font-family="'Liberation Sans', sans-serif" font-weight="bold" font-size="15.6" text-anchor="middle">Δm (Jsc)%</text>
<polygon points="45.70,581.19 48.10,576.79 52.90,576.79 55.30,581.19 52.90,585.59 48.10,585.59" fill="#979797"/>
<rect x="46.40" y="577.09" width="8.2" height="8.2" fill="#979797"/>
<polygon points="65.63,533.32 70.33,541.72 60.93,541.72" fill="#979797"/>
<rect x="61.53" y="549.73" width="8.2" height="8.2" fill="#979797"/>
<polygon points="60.83,564.78 63.23,560.38 68.03,560.38 70.43,564.78 68.03,569.18 63.23,569.18" fill="#979797"/>
<circle cx="65.63" cy="576.33" r="4.4" fill="#979797"/>
<polygon points="75.96,528.30 78.36,523.90 83.16,523.90 85.56,528.30 83.16,532.70 78.36,532.70" fill="#979797"/>
<polygon points="80.76,543.66 85.46,552.06 76.06,552.06" fill="#979797"/>
<rect x="76.66" y="555.20" width="8.2" height="8.2" fill="#979797"/>
<circle cx="80.76" cy="574.50" r="4.4" fill="#979797"/>
<polygon points="91.09,532.55 93.49,528.15 98.29,528.15 100.69,532.55 98.29,536.95 93.49,536.95" fill="#979797"/>
<rect x="91.79" y="544.87" width="8.2" height="8.2" fill="#979797"/>
<polygon points="95.89,555.21 100.59,563.61 91.19,563.61" fill="#979797"/>
<circle cx="95.89" cy="569.03" r="4.4" fill="#979797"/>
<rect x="106.92" y="534.53" width="8.2" height="8.2" fill="#979797"/>
<polygon points="106.22,548.97 108.62,544.57 113.42,544.57 115.82,548.97 113.42,553.37 108.62,553.37" fill="#979797"/>
<polygon points="111.02,565.55 115.72,573.95 106.32,573.95" fill="#979797"/>
<circle cx="111.02" cy="580.58" r="4.4" fill="#979797"/>
<polygon points="126.15,517.52 130.85,525.92 121.45,525.92" fill="#979797"/>
<rect x="122.05" y="523.59" width="8.2" height="8.2" fill="#979797"/>
<polygon points="121.35,557.48 123.75,553.08 128.55,553.08 130.95,557.48 128.55,561.88 123.75,561.88" fill="#979797"/>
<circle cx="126.15" cy="569.03" r="4.4" fill="#979797"/>
<polygon points="141.28,517.52 145.98,525.92 136.58,525.92" fill="#979797"/>
<rect x="137.18" y="526.63" width="8.2" height="8.2" fill="#979797"/>
<polygon points="136.48,543.50 138.88,539.10 143.68,539.10 146.08,543.50 143.68,547.90 138.88,547.90" fill="#979797"/>
<circle cx="141.28" cy="559.30" r="4.4" fill="#979797"/>
<polygon points="151.61,522.22 154.01,517.82 158.81,517.82 161.21,522.22 158.81,526.62 154.01,526.62" fill="#979797"/>
<polygon points="156.41,528.46 161.11,536.86 151.71,536.86" fill="#979797"/>
<rect x="152.31" y="540.00" width="8.2" height="8.2" fill="#979797"/>
<polygon points="151.61,554.20 154.01,549.80 158.81,549.80 161.21,554.20 158.81,558.60 154.01,558.60" fill="#979797"/>
<circle cx="156.41" cy="569.64" r="4.4" fill="#979797"/>
<polygon points="166.74,522.22 169.14,517.82 173.94,517.82 176.34,522.22 173.94,526.62 169.14,526.62" fill="#979797"/>
<rect x="167.44" y="529.67" width="8.2" height="8.2" fill="#979797"/>
<polygon points="171.54,538.80 176.24,547.20 166.84,547.20" fill="#979797"/>
<circle cx="171.54" cy="580.58" r="4.4" fill="#979797"/>
<polygon points="181.87,528.30 184.27,523.90 189.07,523.90 191.47,528.30 189.07,532.70 184.27,532.70" fill="#979797"/>
<rect x="182.57" y="543.04" width="8.2" height="8.2" fill="#979797"/>
<polygon points="186.67,549.13 191.37,557.53 181.97,557.53" fill="#979797"/>
<circle cx="186.67" cy="574.50" r="4.4" fill="#979797"/>
<polygon points="197.00,528.30 199.40,523.90 204.20,523.90 206.60,528.30 204.20,532.70 199.40,532.70" fill="#979797"/>
<rect x="197.70" y="541.22" width="8.2" height="8.2" fill="#979797"/>
<circle cx="201.80" cy="555.05" r="4.4" fill="#979797"/>
<polygon points="201.80,568.59 206.50,576.99 197.10,576.99" fill="#979797"/>
<rect x="212.83" y="518.72" width="8.2" height="8.2" fill="#979797"/>
<polygon points="216.93,537.58 221.63,545.98 212.23,545.98" fill="#979797"/>
<polygon points="212.13,553.83 214.53,549.43 219.33,549.43 221.73,553.83 219.33,558.23 214.53,558.23" fill="#979797"/>
<circle cx="216.93" cy="569.03" r="4.4" fill="#979797"/>
<circle cx="232.06" cy="521.61" r="4.4" fill="#979797"/>
<rect x="227.96" y="529.06" width="8.2" height="8.2" fill="#979797"/>
<polygon points="227.26,543.50 229.66,539.10 234.46,539.10 236.86,543.50 234.46,547.90 229.66,547.90" fill="#979797"/>
<polygon points="232.06,547.92 236.76,556.32 227.36,556.32" fill="#979797"/>
<polygon points="247.19,523.60 251.89,532.00 242.49,532.00" fill="#979797"/>
<rect x="243.09" y="538.18" width="8.2" height="8.2" fill="#979797"/>
<circle cx="247.19" cy="558.09" r="4.4" fill="#979797"/>
<polygon points="242.39,566.60 244.79,562.20 249.59,562.20 251.99,566.60 249.59,571.00 244.79,571.00" fill="#979797"/>
<rect x="258.22" y="533.92" width="8.2" height="8.2" fill="#979797"/>
<circle cx="262.32" cy="545.32" r="4.4" fill="#979797"/>
<polygon points="262.32,553.39 267.02,561.79 257.62,561.79" fill="#979797"/>
<polygon points="257.52,569.03 259.92,564.63 264.72,564.63 267.12,569.03 264.72,573.43 259.92,573.43" fill="#979797"/>
<circle cx="277.45" cy="523.43" r="4.4" fill="#979797"/>
<polygon points="272.65,538.63 275.05,534.23 279.85,534.23 282.25,538.63 279.85,543.03 275.05,543.03" fill="#979797"/>
<polygon points="277.45,541.84 282.15,550.24 272.75,550.24" fill="#979797"/>
<rect x="273.35" y="549.73" width="8.2" height="8.2" fill="#979797"/>
<polygon points="292.58,523.60 297.28,532.00 287.88,532.00" fill="#979797"/>
<rect x="288.48" y="538.18" width="8.2" height="8.2" fill="#979797"/>
<polygon points="287.78,553.83 290.18,549.43 294.98,549.43 297.38,553.83 294.98,558.23 290.18,558.23" fill="#979797"/>
<circle cx="292.58" cy="564.78" r="4.4" fill="#979797"/>
<rect x="303.61" y="529.06" width="8.2" height="8.2" fill="#979797"/>
<polygon points="307.71,536.36 312.41,544.76 303.01,544.76" fill="#979797"/>
<circle cx="307.71" cy="548.36" r="4.4" fill="#979797"/>
<polygon points="302.91,558.70 305.31,554.30 310.11,554.30 312.51,558.70 310.11,563.10 305.31,563.10" fill="#979797"/>
<polygon points="322.84,534.54 327.54,542.94 318.14,542.94" fill="#979797"/>
<circle cx="322.84" cy="548.97" r="4.4" fill="#979797"/>
<rect x="318.74" y="558.24" width="8.2" height="8.2" fill="#979797"/>
<polygon points="318.04,572.44 320.44,568.04 325.24,568.04 327.64,572.44 325.24,576.84 320.44,576.84" fill="#979797"/>
<polygon points="337.97,518.12 342.67,526.52 333.27,526.52" fill="#979797"/>
<polygon points="333.17,539.24 335.57,534.84 340.37,534.84 342.77,539.24 340.37,543.64 335.57,543.64" fill="#979797"/>
<rect x="333.87" y="550.34" width="8.2" height="8.2" fill="#979797"/>
<circle cx="337.97" cy="565.38" r="4.4" fill="#979797"/>
<rect x="40.5" y="517.0" width="307.5" height="71.0" fill="none" stroke="#000" stroke-width="2"/>
<line x1="35.6" y1="581.80" x2="40.5" y2="581.80" stroke="#000" stroke-width="1.5"/>
<text x="34.6" y="586.90" font-family="'Liberation Sans', sans-serif" font-weight="bold" font-size="14" text-anchor="end">0</text>
<line x1="35.6" y1="521.00" x2="40.5" y2="521.00" stroke="#000" stroke-width="1.5"/>
<text x="34.6" y="523.00" font-family="'Liberation Sans', sans-serif" font-weight="bold" font-size="14" text-anchor="end">5</text>
<line x1="50.50" y1="588.0" x2="50.50" y2="592.5" stroke="#000" stroke-width="1.5"/>
<line x1="65.63" y1="588.0" x2="65.63" y2="592.5" stroke="#000" stroke-width="1.5"/>
<line x1="80.76" y1="588.0" x2="80.76" y2="592.5" stroke="#000" stroke-width="1.5"/>
<line x1="95.89" y1="588.0" x2="95.89" y2="592.5" stroke="#000" stroke-width="1.5"/>
<line x1="111.02" y1="588.0" x2="111.02" y2="592.5" stroke="#000" stroke-width="1.5"/>
<line x1="126.15" y1="588.0" x2="126.15" y2="592.5" stroke="#000" stroke-width="1.5"/>
<line x1="141.28" y1="588.0" x2="141.28" y2="592.5" stroke="#000" stroke-width="1.5"/>
<line x1="156.41" y1="588.0" x2="156.41" y2="592.5" stroke="#000" stroke-width="1.5"/>
<line x1="171.54" y1="588.0" x2="171.54" y2="592.5" stroke="#000" stroke-width="1.5"/>
<line x1="186.67" y1="588.0" x2="186.67" y2="592.5" stroke="#000" stroke-width="1.5"/>
<line x1="201.80" y1="588.0" x2="201.80" y2="592.5" stroke="#000" stroke-width="1.5"/>
<line x1="216.93" y1="588.0" x2="216.93" y2="592.5" stroke="#000" stroke-width="1.5"/>
<line x1="232.06" y1="588.0" x2="232.06" y2="592.5" stroke="#000" stroke-width="1.5"/>
<line x1="247.19" y1="588.0" x2="247.19" y2="592.5" stroke="#000" stroke-width="1.5"/>
<line x1="262.32" y1="588.0" x2="262.32" y2="592.5" stroke="#000" stroke-width="1.5"/>
<line x1="277.45" y1="588.0" x2="277.45" y2="592.5" stroke="#000" stroke-width="1.5"/>
<line x1="292.58" y1="588.0" x2="292.58" y2="592.5" stroke="#000" stroke-width="1.5"/>
<line x1="307.71" y1="588.0" x2="307.71" y2="592.5" stroke="#000" stroke-width="1.5"/>
<line x1="322.84" y1="588.0" x2="322.84" y2="592.5" stroke="#000" stroke-width="1.5"/>
<line x1="337.97" y1="588.0" x2="337.97" y2="592.5" stroke="#000" stroke-width="1.5"/>
<text transform="translate(12.9,550.5) rotate(-90)" font-family="'Liberation Sans', sans-serif" font-weight="bold" font-size="15.6" text-anchor="middle">Δm (Voc)%</text>
<text x="50.50" y="604.0" font-family="'Liberation Sans', sans-serif" font-weight="bold" font-size="10.8" text-anchor="middle">1</text>
<text x="65.63" y="604.0" font-family="'Liberation Sans', sans-serif" font-weight="bold" font-size="10.8" text-anchor="middle">2</text>
<text x="80.76" y="604.0" font-family="'Liberation Sans', sans-serif" font-weight="bold" font-size="10.8" text-anchor="middle">3</text>
<text x="95.89" y="604.0" font-family="'Liberation Sans', sans-serif" font-weight="bold" font-size="10.8" text-anchor="middle">4</text>
<text x="111.02" y="604.0" font-family="'Liberation Sans', sans-serif" font-weight="bold" font-size="10.8" text-anchor="middle">5</text>
<text x="126.15" y="604.0" font-family="'Liberation Sans', sans-serif" font-weight="bold" font-size="10.8" text-anchor="middle">6</text>
<text x="141.28" y="604.0" font-family="'Liberation Sans', sans-serif" font-weight="bold" font-size="10.8" text-anchor="middle">7</text>
<text x="156.41" y="604.0" font-family="'Liberation Sans', sans-serif" font-weight="bold" font-size="10.8" text-anchor="middle">8</text>
<text x="171.54" y="604.0" font-family="'Liberation Sans', sans-serif" font-weight="bold" font-size="10.8" text-anchor="middle">9</text>
<text x="186.67" y="604.0" font-family="'Liberation Sans', sans-serif" font-weight="bold" font-size="10.8" text-anchor="middle">10</text>
<text x="201.80" y="604.0" font-family="'Liberation Sans', sans-serif" font-weight="bold" font-size="10.8" text-anchor="middle">11</text>
<text x="216.93" y="604.0" font-family="'Liberation Sans', sans-serif" font-weight="bold" font-size="10.8" text-anchor="middle">12</text>
<text x="232.06" y="604.0" font-family="'Liberation Sans', sans-serif" font-weight="bold" font-size="10.8" text-anchor="middle">13</text>
<text x="247.19" y="604.0" font-family="'Liberation Sans', sans-serif" font-weight="bold" font-size="10.8" text-anchor="middle">14</text>
<text x="262.32" y="604.0" font-family="'Liberation Sans', sans-serif" font-weight="bold" font-size="10.8" text-anchor="middle">15</text>
<text x="277.45" y="604.0" font-family="'Liberation Sans', sans-serif" font-weight="bold" font-size="10.8" text-anchor="middle">16</text>
<text x="292.58" y="604.0" font-family="'Liberation Sans', sans-serif" font-weight="bold" font-size="10.8" text-anchor="middle">17</text>
<text x="307.71" y="604.0" font-family="'Liberation Sans', sans-serif" font-weight="bold" font-size="10.8" text-anchor="middle">18</text>
<text x="322.84" y="604.0" font-family="'Liberation Sans', sans-serif" font-weight="bold" font-size="10.8" text-anchor="middle">19</text>
<text x="337.97" y="604.0" font-family="'Liberation Sans', sans-serif" font-weight="bold" font-size="10.8" text-anchor="middle">20</text>
<text x="190" y="625.8" font-family="'Liberation Sans', sans-serif" font-weight="bold" font-size="15.6" text-anchor="middle"># Sample</text>
</svg>
</body></html>
